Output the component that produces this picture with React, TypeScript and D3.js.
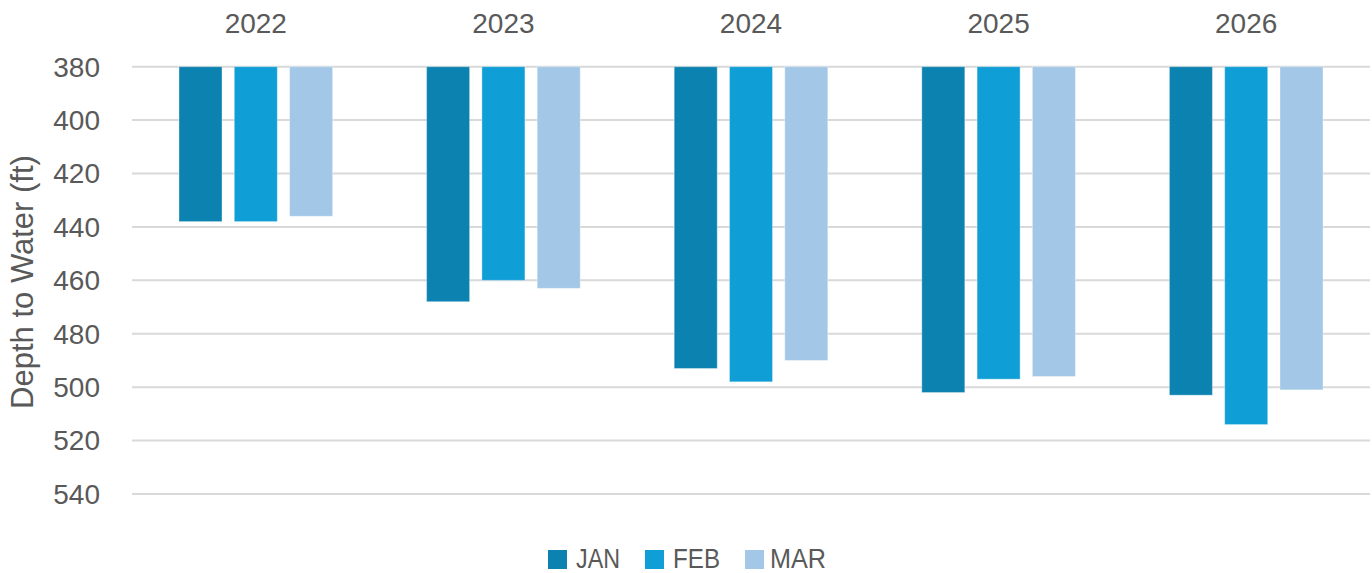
import React from "react";
import * as d3 from "d3";

const years = ["2022", "2023", "2024", "2025", "2026"];
const months = ["JAN", "FEB", "MAR"];
const janValues = [438, 468, 493, 502, 503];
const febValues = [438, 460, 498, 497, 514];
const marValues = [436, 463, 490, 496, 501];
const yTicks = [380, 400, 420, 440, 460, 480, 500, 520, 540];
const colors = ["#0B82AF", "#109ED6", "#A2C7E7"];

const W = 1372;
const H = 573;
const FONT = "'Liberation Sans', Arial, sans-serif";
const TEXT = "#595959";

export default function App() {
  const series = [janValues, febValues, marValues];
  const x = d3.scaleBand<string>().domain(years).range([132, 1370]).paddingInner(0).paddingOuter(0);
  const sub = d3
    .scaleBand<string>()
    .domain(months)
    .range([0, x.bandwidth()])
    .paddingInner(0.222)
    .paddingOuter(0.85);
  const y = d3.scaleLinear().domain([380, 540]).range([66.7, 494]);

  const legendX = [548, 645, 745];
  const legendLen = [44, 47, 56];

  return (
    <svg width={W} height={H} style={{ position: "absolute", left: 0, top: 0, background: "#fff" }}>
      <rect x={0} y={0} width={W} height={H} fill="#fff" />
      {yTicks.map((t) => (
        <g key={t}>
          <line x1={132} x2={1370} y1={y(t)} y2={y(t)} stroke="#D9D9D9" strokeWidth={2} />
          <text x={100} y={y(t)} dy="0.35em" textAnchor="end" fontFamily={FONT} fontSize={28} fill={TEXT}>
            {t}
          </text>
        </g>
      ))}
      {years.map((yr, i) => (
        <g key={yr}>
          <text x={(x(yr) ?? 0) + x.bandwidth() / 2} y={33} textAnchor="middle" fontFamily={FONT} fontSize={28} fill={TEXT}>
            {yr}
          </text>
          {months.map((m, j) => {
            const v = series[j][i];
            return (
              <rect
                key={m}
                x={(x(yr) ?? 0) + (sub(m) ?? 0)}
                y={y(380)}
                width={sub.bandwidth()}
                height={y(v) - y(380)}
                fill={colors[j]}
                stroke="rgba(255,255,255,0.35)"
                strokeWidth={1}
              />
            );
          })}
        </g>
      ))}
      <text
        transform={`translate(33, 282) rotate(-90)`}
        textAnchor="middle"
        fontFamily={FONT}
        fontSize={31}
        fill={TEXT}
      >
        Depth to Water (ft)
      </text>
      {months.map((m, j) => (
        <g key={m}>
          <rect x={legendX[j]} y={550} width={19} height={19} fill={colors[j]} />
          <text
            x={legendX[j] + (j === 2 ? 25 : 28)}
            y={568}
            fontFamily={FONT}
            fontSize={27}
            fill={TEXT}
            textLength={legendLen[j]}
            lengthAdjust="spacingAndGlyphs"
          >
            {m}
          </text>
        </g>
      ))}
    </svg>
  );
}
